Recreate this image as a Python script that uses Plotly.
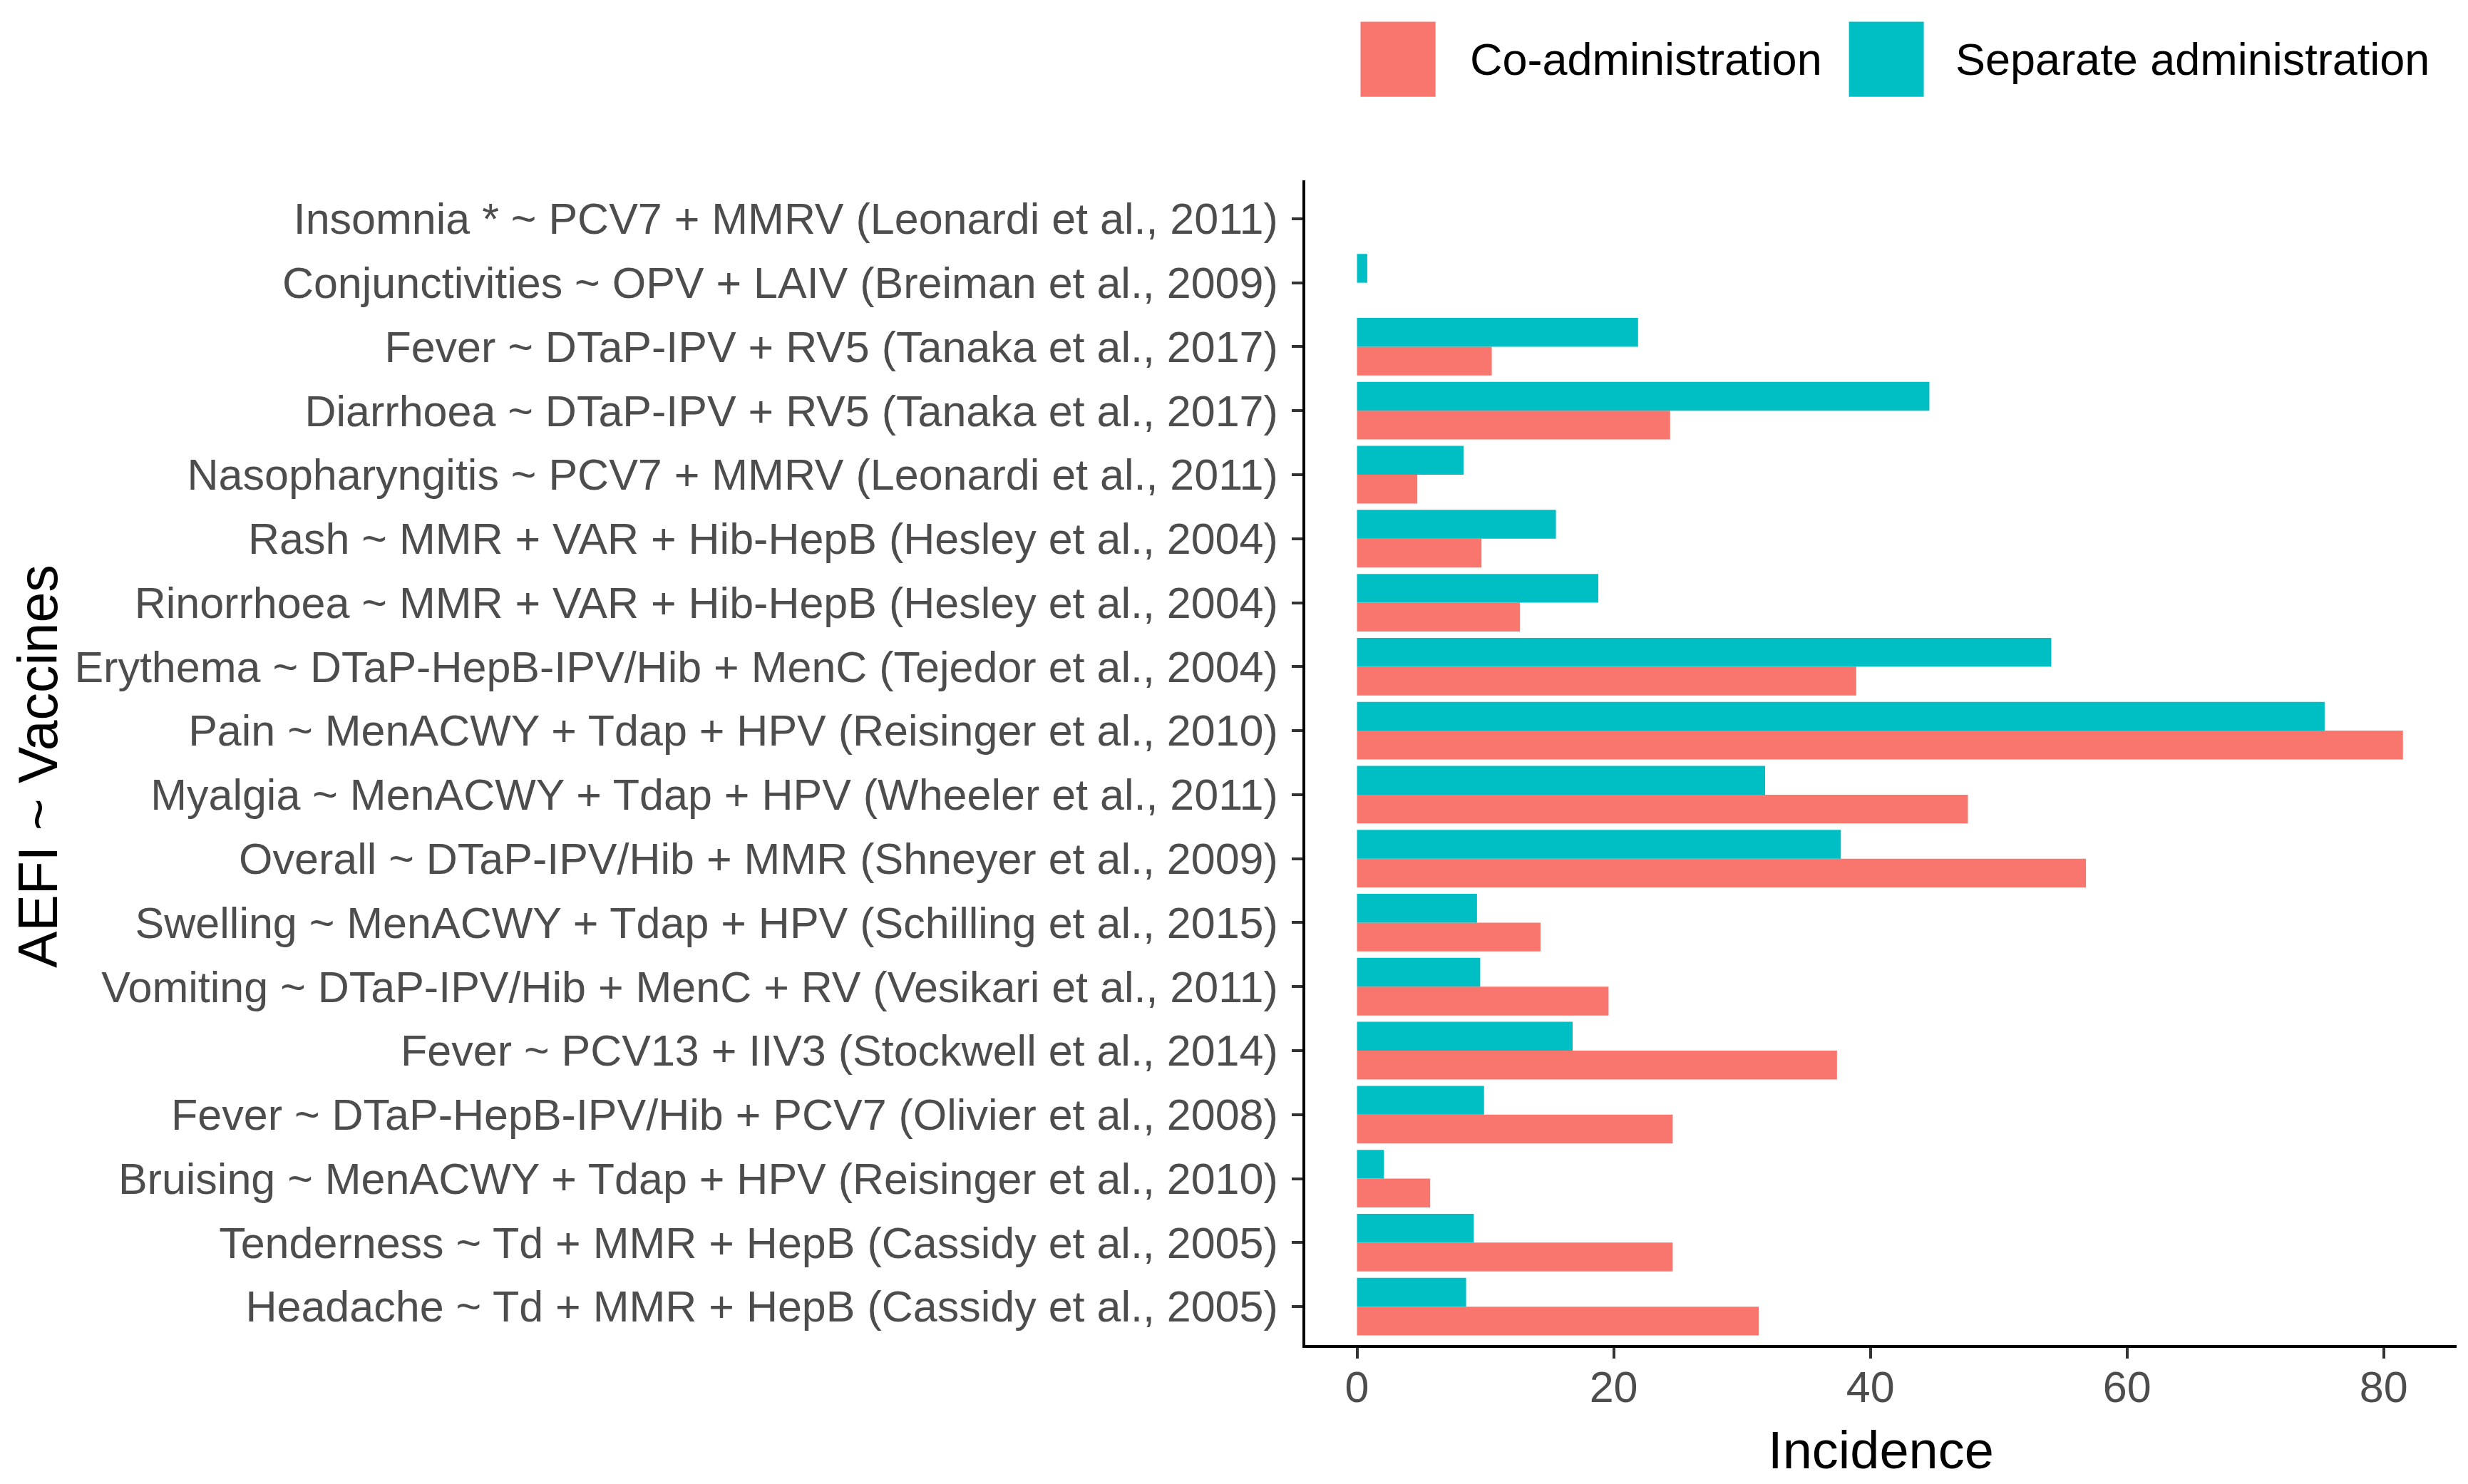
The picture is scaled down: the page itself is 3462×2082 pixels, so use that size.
import plotly.graph_objects as go

categories = [
    "Headache ~ Td + MMR + HepB (Cassidy et al., 2005)",
    "Tenderness ~ Td + MMR + HepB (Cassidy et al., 2005)",
    "Bruising ~ MenACWY + Tdap + HPV (Reisinger et al., 2010)",
    "Fever ~ DTaP-HepB-IPV/Hib + PCV7 (Olivier et al., 2008)",
    "Fever ~ PCV13 + IIV3 (Stockwell et al., 2014)",
    "Vomiting ~ DTaP-IPV/Hib + MenC + RV (Vesikari et al., 2011)",
    "Swelling ~ MenACWY + Tdap + HPV (Schilling et al., 2015)",
    "Overall ~ DTaP-IPV/Hib + MMR (Shneyer et al., 2009)",
    "Myalgia ~ MenACWY + Tdap + HPV (Wheeler et al., 2011)",
    "Pain ~ MenACWY + Tdap + HPV (Reisinger et al., 2010)",
    "Erythema ~ DTaP-HepB-IPV/Hib + MenC (Tejedor et al., 2004)",
    "Rinorrhoea ~ MMR + VAR + Hib-HepB (Hesley et al., 2004)",
    "Rash ~ MMR + VAR + Hib-HepB (Hesley et al., 2004)",
    "Nasopharyngitis ~ PCV7 + MMRV (Leonardi et al., 2011)",
    "Diarrhoea ~ DTaP-IPV + RV5 (Tanaka et al., 2017)",
    "Fever ~ DTaP-IPV + RV5 (Tanaka et al., 2017)",
    "Conjunctivities ~ OPV + LAIV (Breiman et al., 2009)",
    "Insomnia * ~ PCV7 + MMRV (Leonardi et al., 2011)",
]

co_admin = [31.3, 24.6, 5.7, 24.6, 37.4, 19.6, 14.3, 56.8, 47.6, 81.5,
            38.9, 12.7, 9.7, 4.7, 24.4, 10.5, None, None]
separate_admin = [8.5, 9.1, 2.1, 9.9, 16.8, 9.6, 9.35, 37.7, 31.8, 75.4,
                  54.1, 18.8, 15.5, 8.3, 44.6, 21.9, 0.8, None]

series_names = ["Co-administration", "Separate administration"]
colors = ["#F8766D", "#00BFC4"]

x_ticks = [0, 20, 40, 60, 80]

FONT = "Liberation Sans, Arial, sans-serif"

fig = go.Figure()
for name, vals, col in zip(series_names, [co_admin, separate_admin], colors):
    fig.add_trace(go.Bar(
        y=categories, x=vals, name=name, orientation="h",
        marker=dict(color=col, line=dict(width=0)),
        showlegend=False,
    ))

# custom legend (ggplot-style large keys)
key_pos = [(0.0480, 0.1131, 0.1415), (0.4722, 0.5372, 0.5632)]
for (x0, x1, tx), name, col in zip(key_pos, series_names, colors):
    fig.add_shape(type="rect", xref="paper", yref="paper",
                  x0=x0, x1=x1, y0=1.0718, y1=1.1361,
                  fillcolor=col, line=dict(width=0))
    fig.add_annotation(xref="paper", yref="paper", x=tx, y=1.1040,
                       text=name, showarrow=False, xanchor="left", yanchor="middle",
                       font=dict(size=63, color="#000000", family=FONT))

# y axis title
fig.add_annotation(xref="paper", yref="paper", x=(45 - 1823) / 1615, y=0.497,
                   text="AEFI ~ Vaccines", showarrow=False, textangle=-90,
                   xanchor="center", yanchor="middle",
                   font=dict(size=77, color="#000000", family=FONT))

fig.update_layout(
    width=3462, height=2082,
    margin=dict(l=1823, r=24, t=245, b=203),
    paper_bgcolor="white", plot_bgcolor="white",
    barmode="group", bargap=0.1, bargroupgap=0,
    font=dict(family=FONT, color="#000000"),
    showlegend=False,
)
fig.update_xaxes(
    range=[-4.03, 85.68], tickvals=x_ticks, ticktext=[str(v) for v in x_ticks],
    showgrid=False, zeroline=False,
    showline=True, linecolor="black", linewidth=4,
    ticks="outside", ticklen=15, tickwidth=4, tickcolor="#333333",
    ticklabelstandoff=-12,
    tickfont=dict(size=61, color="#4D4D4D", family=FONT),
    title=dict(text="Incidence", font=dict(size=74, color="black", family=FONT), standoff=30),
    automargin=False,
)
fig.update_yaxes(
    type="category", categoryorder="array", categoryarray=categories,
    range=[-0.6, 17.6],
    showgrid=False, zeroline=False,
    showline=True, linecolor="black", linewidth=4,
    ticks="outside", ticklen=15, tickwidth=4, tickcolor="#333333",
    ticklabelstandoff=7,
    tickfont=dict(size=61, color="#4D4D4D", family=FONT),
    automargin=False,
)

fig.write_html("out.html")
